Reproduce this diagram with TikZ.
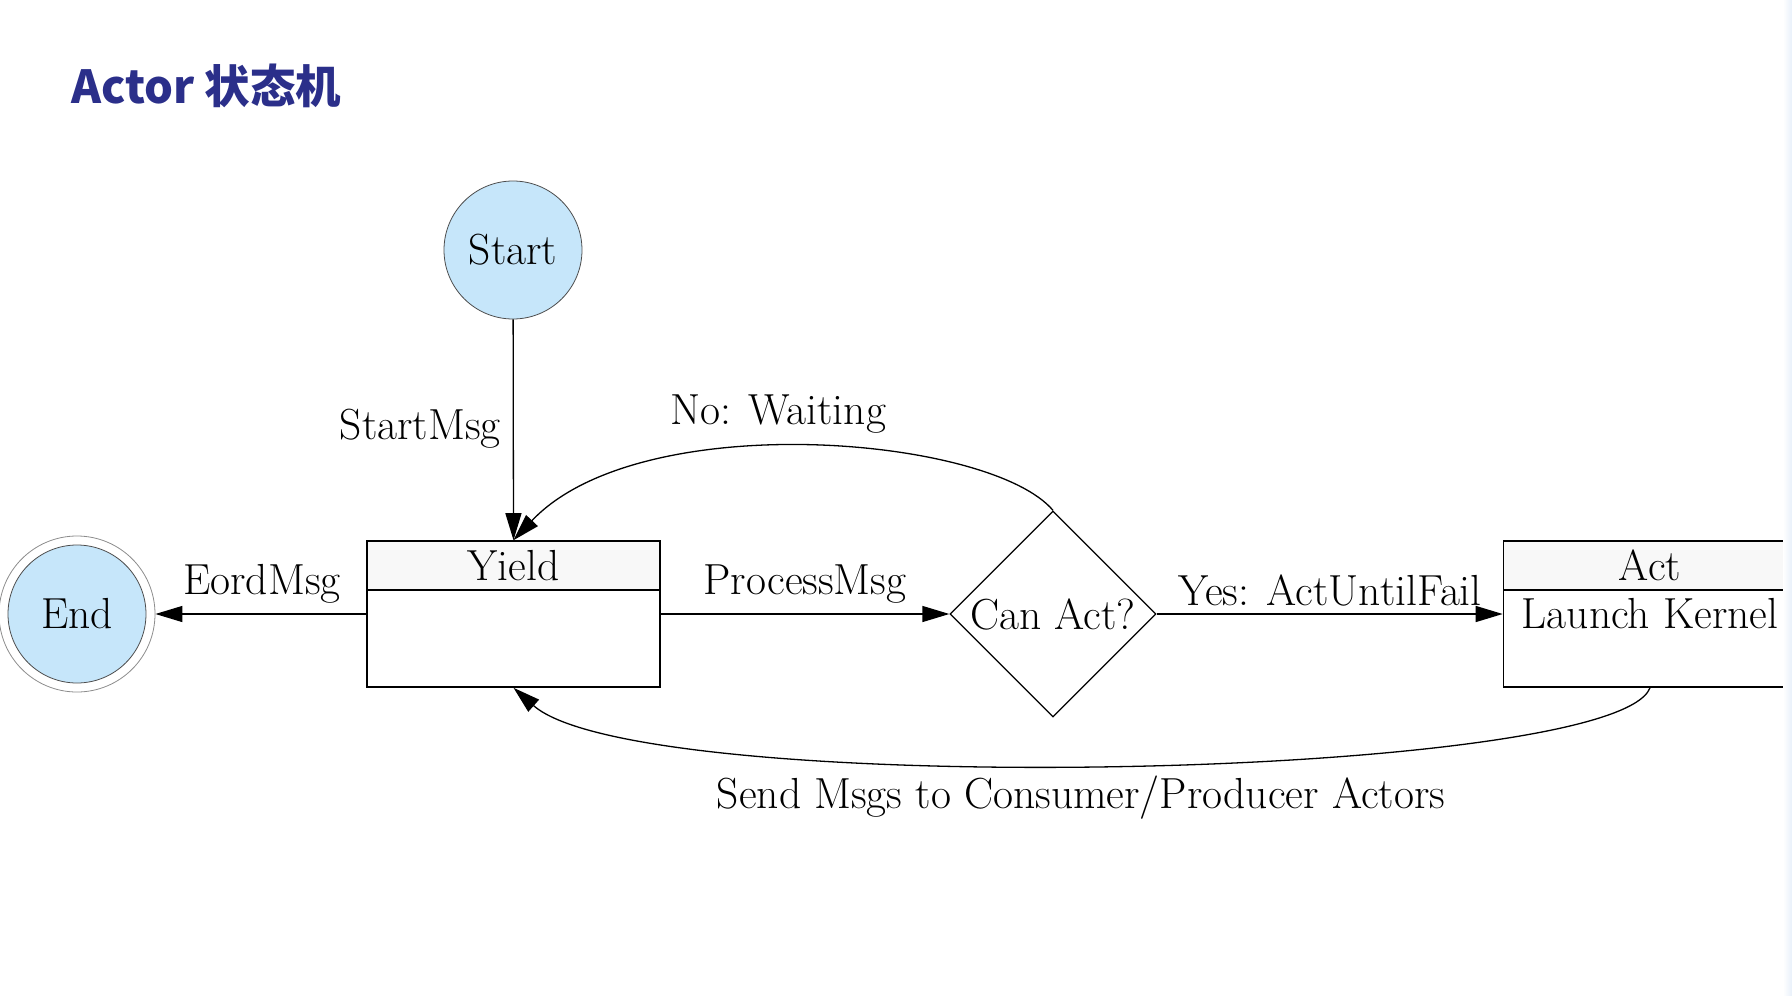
\documentclass[tikz,border=0pt]{standalone}
\usepackage{fontspec}
\newfontfamily\cjk{Noto Sans CJK SC}
\usetikzlibrary{arrows.meta}
\usetikzlibrary{shapes.geometric}
\definecolor{titleblue}{RGB}{43,47,138}
\definecolor{statefill}{RGB}{198,230,250}
\definecolor{headfill}{RGB}{248,248,248}
\definecolor{edgeblue}{RGB}{232,240,250}
\tikzset{
  state/.style={circle, draw=black!70, line width=0.8pt, fill=statefill, minimum size=138pt, inner sep=0pt},
  ring/.style={circle, draw=black!45, line width=0.8pt, minimum size=156pt, inner sep=0pt},
  box/.style={rectangle, draw, line width=1.6pt, minimum width=293pt, minimum height=146pt, inner sep=0pt},
  head/.style={rectangle, draw, line width=1.6pt, fill=headfill, minimum width=293pt, minimum height=49pt, inner sep=0pt, anchor=north},
  choice/.style={diamond, draw, line width=1.3pt, minimum size=206pt, inner sep=0pt, aspect=1},
  edge/.style={line width=1.3pt, -{Triangle[length=27pt,width=16pt]}},
  lbl/.style={inner sep=0pt},
}
\begin{document}
\begin{tikzpicture}[x=1pt, y=-1pt, font=\fontsize{43.5}{52}\selectfont]
  \useasboundingbox (0,0) rectangle (1792,996);
  % title
  \node[anchor=base west, inner sep=0pt, text=titleblue] (title) at (71,103) {\cjk\bfseries\fontsize{45.5}{52}\selectfont Actor 状态机};
  % states
  \node[state] (start) at (513,250) {Start};
  \node[state] (end) at (77,614) {End};
  \node[ring] (endring) at (77,614) {};
  \node[box] (yield) at (513.5,614) {};
  \node[head] (yieldhead) at (yield.north) {Yield};
  \node[choice] (canact) at (1053,614) {Can Act?};
  \node[box] (act) at (1650,614) {Launch Kernel};
  \node[head] (acthead) at (act.north) {Act};
  % connectors
  \draw[edge] (start) -- (yield.north);
  \draw[edge] (yield.west) -- (endring.east);
  \draw[edge] (yield.east) -- (canact.west);
  \draw[edge] (canact.east) -- (act.west);
  \draw[edge] (canact.north) .. controls (990,436) and (640,406) .. (yield.north);
  \draw[edge] (act.south) .. controls (1615,780) and (640,800) .. (yield.south);
  % labels
  \node[lbl, anchor=east] (startmsg) at (501,429) {StartMsg};
  \node[lbl] (eordmsg) at (262,584) {EordMsg};
  \node[lbl] (processmsg) at (805,584) {ProcessMsg};
  \node[lbl] (yesact) at (1330,590) {Yes: ActUntilFail};
  \node[lbl] (nowait) at (778,414) {No: Waiting};
  \node[lbl] (sendmsgs) at (1081,798) {Send Msgs to Consumer/Producer Actors};
  % right edge of the slide
  \fill[left color=white, right color=edgeblue] (1783,0) rectangle (1792,996);
\end{tikzpicture}
\end{document}
